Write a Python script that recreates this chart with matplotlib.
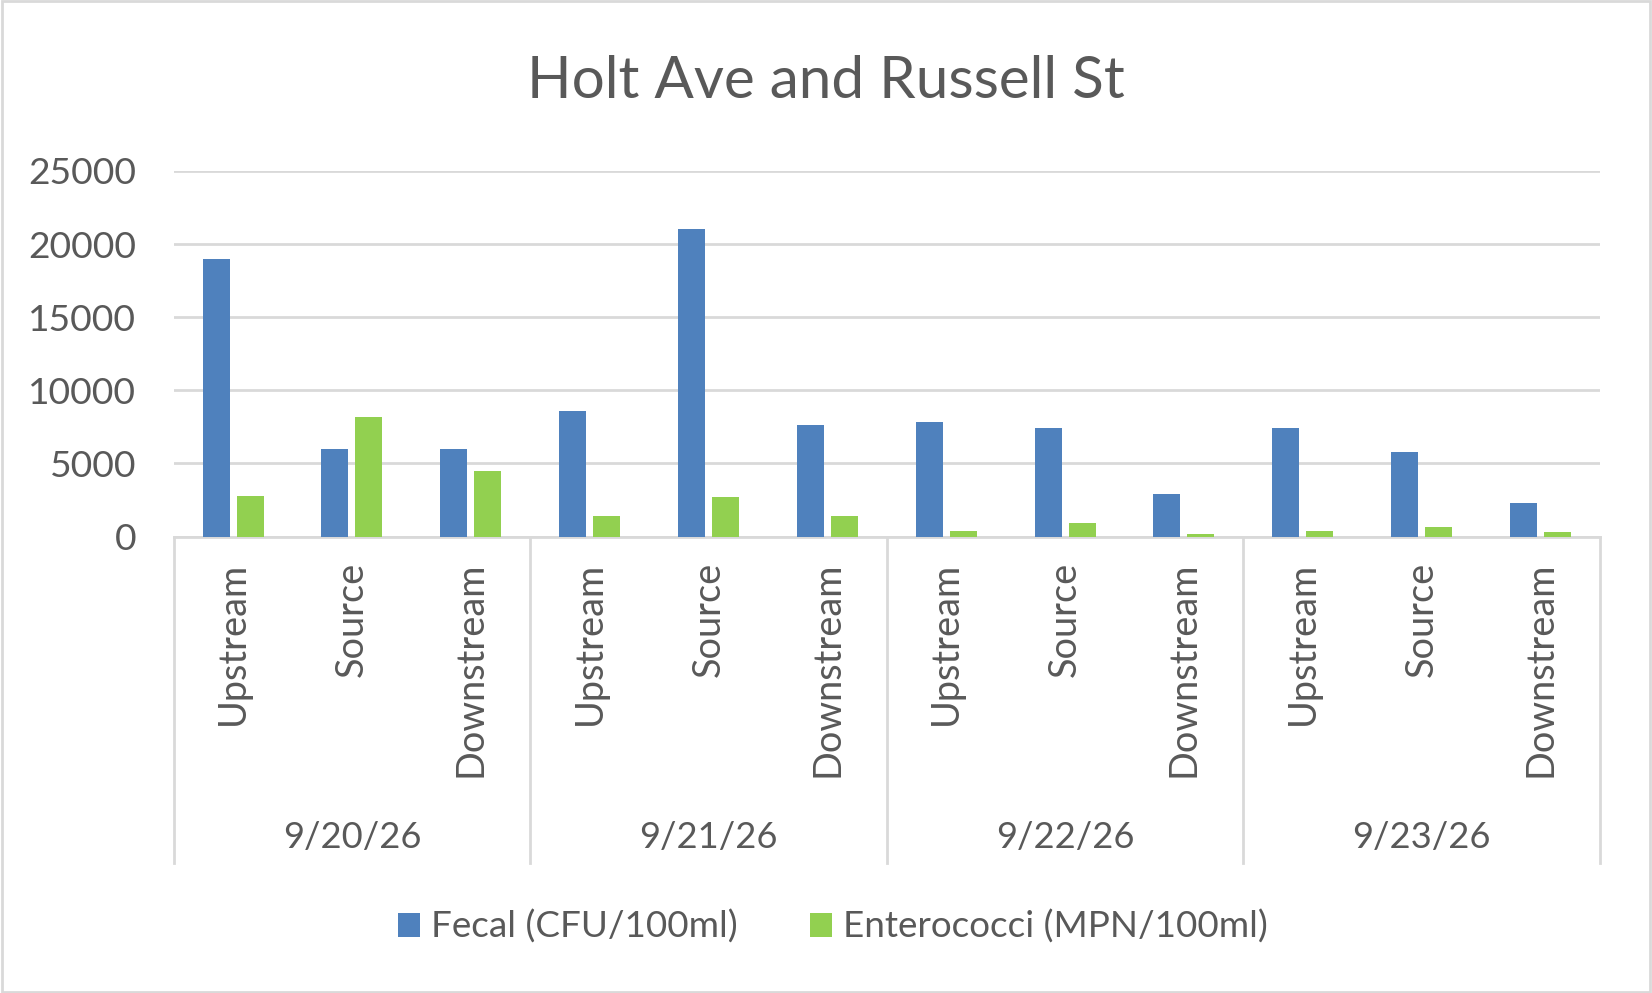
import matplotlib
matplotlib.use('Agg')
import matplotlib.pyplot as plt
import numpy as np

dates = ['9/20/26', '9/21/26', '9/22/26', '9/23/26']
sites = ['Upstream', 'Source', 'Downstream']
fecal = [19000, 6000, 6000, 8600, 21000, 7600, 7800, 7400, 2900, 7400, 5800, 2300]
entero = [2750, 8150, 4500, 1400, 2700, 1400, 400, 900, 200, 400, 650, 300]
series_names = ['Fecal (CFU/100ml)', 'Enterococci (MPN/100ml)']
yticks = [0, 5000, 10000, 15000, 20000, 25000]

plt.rcParams['font.family'] = ['Lato', 'DejaVu Sans']
txt = '#595959'
grid = '#d9d9d9'

fig = plt.figure(figsize=(16.52, 9.93), dpi=100)
ax = fig.add_axes([0.1051, 0.4597, 0.8634, 0.3681])

x = np.arange(len(fecal))
w = 0.227
off = 0.143
ax.bar(x - off, fecal, w, color='#4F81BD', label=series_names[0], zorder=3)
ax.bar(x + off, entero, w, color='#92D050', label=series_names[1], zorder=3)

ax.set_xlim(-0.5, len(fecal) - 0.5)
ax.set_ylim(0, 25000)
ax.set_yticks(yticks)
ax.set_yticklabels([str(v) for v in yticks], fontsize=26.8, color=txt)
ax.yaxis.grid(True, color=grid, linewidth=2, zorder=0)
ax.tick_params(axis='y', length=0, pad=27)

labels = sites * len(dates)
ax.set_xticks(x)
ax.set_xticklabels(labels, rotation=90, fontsize=27.3, color=txt)
ax.tick_params(axis='x', length=0, pad=18)

for s in ['top', 'right', 'left']:
    ax.spines[s].set_visible(False)
ax.spines['bottom'].set_color(grid)
ax.spines['bottom'].set_linewidth(2)

# group separators and date labels
tr = ax.get_xaxis_transform()
for i in range(len(dates) + 1):
    xs = i * 3 - 0.5
    ax.plot([xs, xs], [0, -0.893], transform=tr, color=grid, lw=2, clip_on=False)
for i, d in enumerate(dates):
    ax.text(i * 3 + 1, -0.824, d, transform=tr, ha='center', va='center',
            fontsize=26.2, color=txt)

fig.text(0.5, 1 - 82 / 993, 'Holt Ave and Russell St', ha='center', va='center',
         fontsize=42, color=txt)

leg = fig.legend(loc='center', bbox_to_anchor=(0.504, 1 - 927 / 993), ncol=2,
                 frameon=False, fontsize=26.6, handlelength=0.6, handleheight=0.6,
                 handletextpad=0.3, columnspacing=1.95)
for t in leg.get_texts():
    t.set_color(txt)

fig.patches.append(plt.Rectangle((0.001, 0.001), 0.998, 0.998, transform=fig.transFigure,
                                 fill=False, edgecolor=grid, linewidth=2))

fig.savefig('out.png', dpi=100)
